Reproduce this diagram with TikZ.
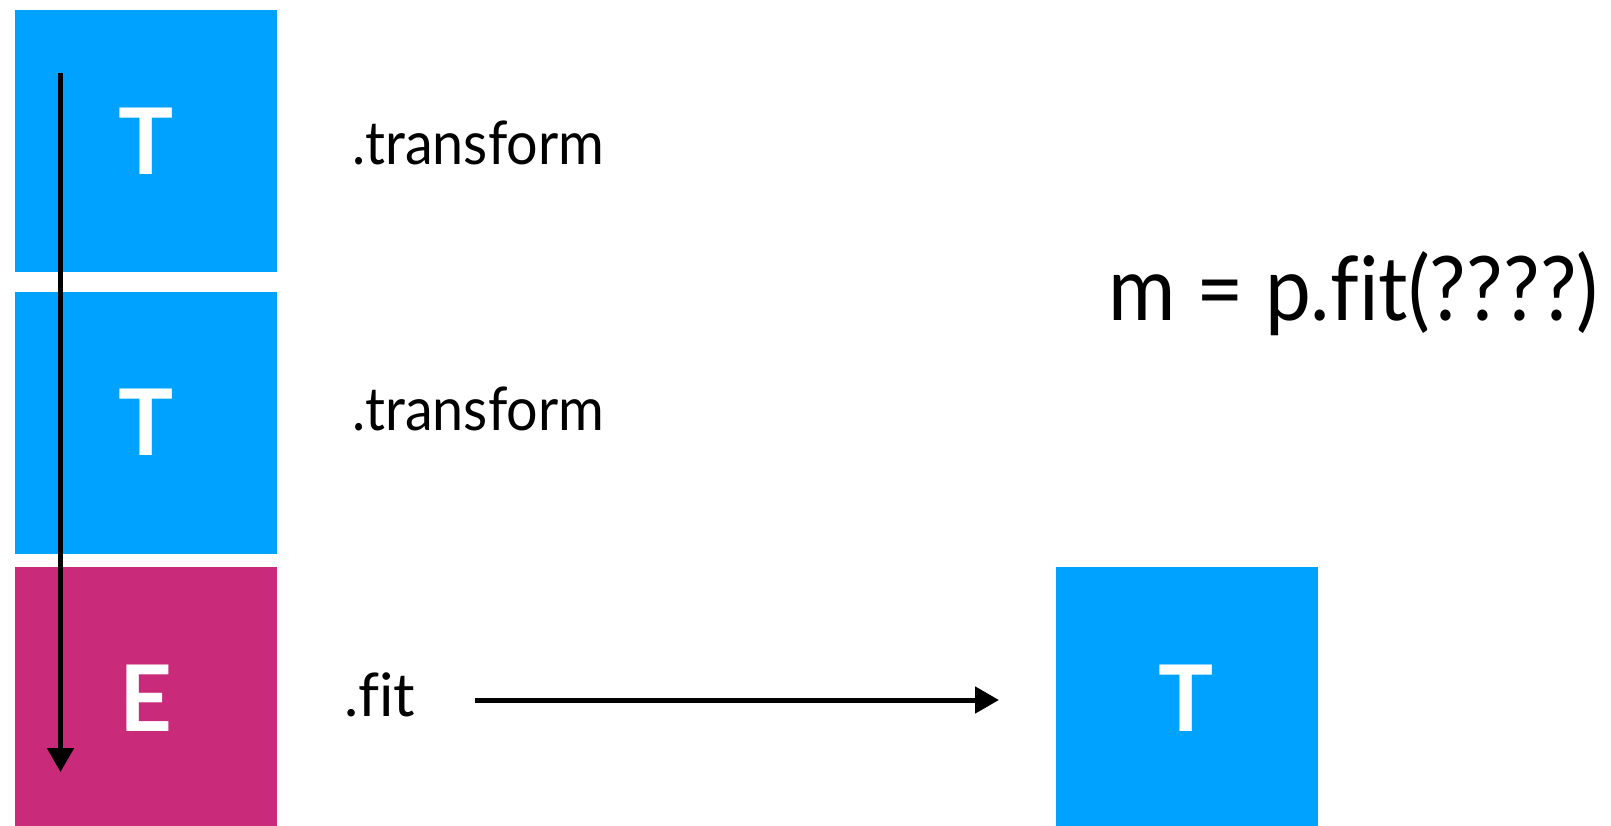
\documentclass[tikz,border=0pt]{standalone}
\usepackage{fontspec}
\setmainfont{Lato}[Ligatures=NoCommon]
\usetikzlibrary{arrows.meta}
\definecolor{tblue}{RGB}{0,162,255}
\definecolor{emag}{RGB}{202,42,122}
\tikzset{
  blk/.style={minimum width=262pt,minimum height=262pt,inner sep=0pt,outer sep=0pt,text=white,font=\fontsize{92}{92}\selectfont\bfseries},
  tbox/.style={blk,fill=tblue},
  ebox/.style={blk,fill=emag},
  lbl/.style={anchor=base west,inner sep=0pt,font=\fontsize{60}{72}\selectfont},
  arr/.style={line width=5pt,-{Triangle[length=24pt,width=26pt]}}
}
\begin{document}
\begin{tikzpicture}[x=1pt,y=-1pt]
\useasboundingbox (0,0) rectangle (1611,825);
\clip (0,0) rectangle (1611,825);
\node[tbox] (t1) at (146,141) {T};
\node[tbox] (t2) at (146,422.5) {T};
\node[ebox] (e) at (146,698) {E};
\node[tbox] (t3) at (1186.5,698) {T};
\node[lbl] (l1) at (352,164) {\resizebox{252pt}{\height}{.transform}};
\node[lbl] (l2) at (352,430) {\resizebox{252pt}{\height}{.transform}};
\node[lbl] (l3) at (344,716) {.fit};
\node[anchor=base west,inner sep=0pt,font=\fontsize{89}{100}\selectfont] (eq) at (1108,320) {\resizebox{490pt}{\height}{m = p.fit(????)}};
\coordinate (vs) at (60.5,73);
\coordinate (ve) at (60.5,772);
\draw[arr] (vs) -- (ve);
\coordinate (hs) at (475,700);
\coordinate (he) at (999,700);
\draw[arr] (hs) -- (he);
\end{tikzpicture}
\end{document}
